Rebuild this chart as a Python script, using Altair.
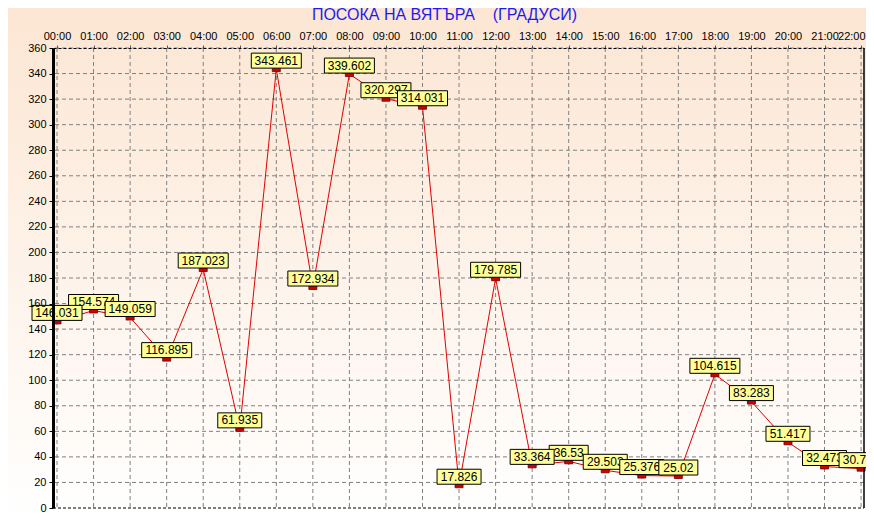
import altair as alt
import pandas as pd

hours = list(range(23))
hour_labels = [f"{h:02d}:00" for h in hours]
values = [146.031, 154.574, 149.059, 116.895, 187.023, 61.935, 343.461, 172.934,
          339.602, 320.297, 314.031, 17.826, 179.785, 33.364, 36.53, 29.503,
          25.376, 25.02, 104.615, 83.283, 51.417, 32.473, 30.785]
labels = ["146.031", "154.574", "149.059", "116.895", "187.023", "61.935", "343.461",
          "172.934", "339.602", "320.297", "314.031", "17.826", "179.785", "33.364",
          "36.53", "29.503", "25.376", "25.02", "104.615", "83.283", "51.417",
          "32.473", "30.785"]
y_ticks = list(range(0, 361, 20))
title_text = "ПОСОКА НА ВЯТЪРА\u00a0\u00a0\u00a0\u00a0(ГРАДУСИ)"

W, H = 811, 460
df = pd.DataFrame({"hour": hours, "value": values, "label": labels,
                   "nchar": [len(s) for s in labels]})
xg = pd.DataFrame({"hour": hours})
yg = pd.DataFrame({"v": y_ticks[1:]})
one = pd.DataFrame({"a": [0]})

FONT = "Liberation Sans"
xscale = alt.Scale(domain=[-0.11, 22.08], nice=False, zero=False)
yscale = alt.Scale(domain=[0, 360], nice=False)

# background gradient (decorative)
bg = alt.Chart(one).mark_rect(
    clip=False,
    color=alt.Gradient(gradient="linear", x1=0, x2=0, y1=0, y2=1,
                       stops=[alt.GradientStop(color="#FCE6D3", offset=0),
                              alt.GradientStop(color="#FFFFFF", offset=1)])
).encode(x=alt.value(-45), x2=alt.value(W + 2), y=alt.value(-40), y2=alt.value(H + 12))

xaxis = alt.Axis(orient="top", values=hours,
                 labelExpr="(datum.value < 10 ? '0' : '') + datum.value + ':00'",
                 labelAlign={"expr": "datum.value === 22 ? 'right' : 'center'"},
                 labelOffset={"expr": "datum.value === 22 ? 4 : 0"},
                 title=None, labelFont=FONT, labelFontSize=11, labelColor="black",
                 labelOverlap=False, labelBound=False, labelFlush=False,
                 tickColor="#555", tickSize=3, labelPadding=4,
                 domainColor="black", domainDash=[3, 2], domainWidth=1,
                 grid=False, zindex=1)
yaxis = alt.Axis(values=y_ticks, title=None, labelFont=FONT, labelFontSize=11,
                 labelColor="black", tickColor="black", tickSize=4, labelPadding=3,
                 labelOverlap=False, labelBound=False, labelFlush=False,
                 domainColor="black", domainWidth=3, grid=False, zindex=1)

xgrid = alt.Chart(xg).mark_rule(color="#808080", strokeDash=[4, 3], strokeWidth=1).encode(
    x=alt.X("hour:Q", scale=xscale, axis=xaxis))
ygrid = alt.Chart(yg).mark_rule(color="#808080", strokeDash=[4, 3], strokeWidth=1).encode(
    y=alt.Y("v:Q", scale=yscale, axis=yaxis))

base = alt.Chart(df)
line = base.mark_line(color="#E00000", strokeWidth=1).encode(
    x=alt.X("hour:Q", scale=xscale, axis=xaxis),
    y=alt.Y("value:Q", scale=yscale, axis=yaxis),
)
markers = base.mark_point(
    shape="M-4,-2.5L4,-2.5L4,2.5L-4,2.5Z", size=4, filled=True,
    fill="#D00000", stroke="#6A0000", strokeWidth=0.8, opacity=1
).encode(x=alt.X("hour:Q", scale=xscale, axis=xaxis),
         y=alt.Y("value:Q", scale=yscale, axis=yaxis))

bottom_rule = alt.Chart(one).mark_rule(
    color="black", strokeDash=[3, 2], strokeWidth=1
).encode(x=alt.value(0), x2=alt.value(W), y=alt.value(H))
right_rule = alt.Chart(one).mark_rule(
    color="black", strokeWidth=1.5
).encode(x=alt.value(W), y=alt.value(0), y2=alt.value(H))

title = alt.Chart(one).mark_text(
    text=title_text, font=FONT, fontSize=16, color="#1C1CF0",
    align="center", baseline="middle", clip=False
).encode(x=alt.value(W / 2 - 14), y=alt.value(-33))

box_paths = {5: "M-19.5,-16L19.5,-16L19.5,-1L-19.5,-1Z",
             6: "M-22,-16L22,-16L22,-1L-22,-1Z",
             7: "M-25,-16L25,-16L25,-1L-25,-1Z"}

label_layers = []
order = df.sort_values("value", ascending=False).index
for i in order:
    row = df.loc[[i]]
    c = alt.Chart(row)
    box = c.mark_point(
        shape=box_paths[int(row["nchar"].iloc[0])], size=4, filled=True,
        fill="#FFFF99", stroke="black", strokeWidth=1, opacity=1, clip=False
    ).encode(x=alt.X("hour:Q", scale=xscale, axis=xaxis),
             y=alt.Y("value:Q", scale=yscale, axis=yaxis))
    txt = c.mark_text(font=FONT, fontSize=12, color="black", dy=-8.5,
                      baseline="middle", align="center", clip=False).encode(
        x=alt.X("hour:Q", scale=xscale, axis=xaxis),
        y=alt.Y("value:Q", scale=yscale, axis=yaxis),
        text="label:N")
    label_layers += [box, txt]

chart = alt.layer(bg, xgrid, ygrid, line, markers, bottom_rule, right_rule, title,
                  *label_layers).properties(
    width=W, height=H,
    autosize=alt.AutoSizeParams(type="none"),
    padding={"left": 45, "top": 40, "right": 2, "bottom": 12},
    background="#FFFFFF",
).configure_view(stroke=None).configure_axis(labelOverlap=False)

chart.save("out.html", embed_options={"renderer": "svg", "actions": False})
